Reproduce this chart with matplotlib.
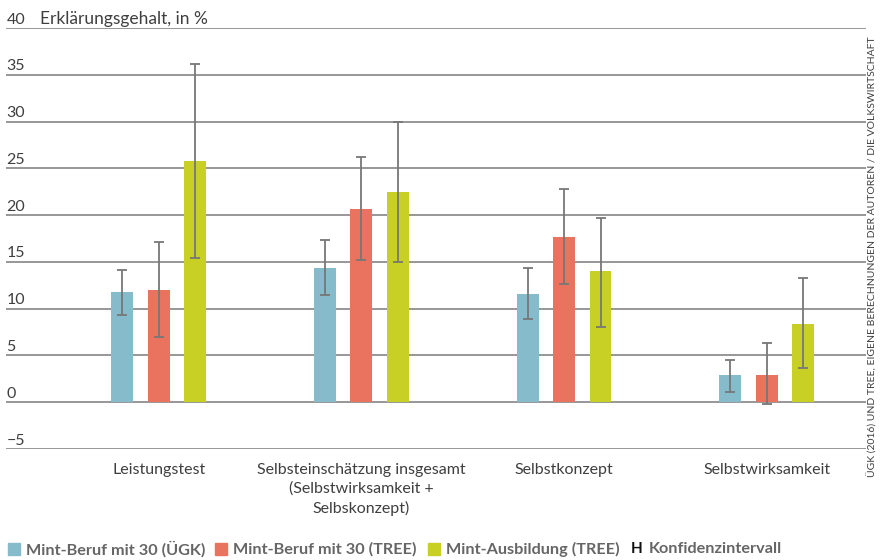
import matplotlib
matplotlib.use("Agg")
import matplotlib.pyplot as plt
import numpy as np
from matplotlib.patches import Rectangle

categories = ["Leistungstest",
              "Selbsteinschätzung insgesamt\n(Selbstwirksamkeit +\nSelbskonzept)",
              "Selbstkonzept",
              "Selbstwirksamkeit"]
series_names = ["Mint-Beruf mit 30 (ÜGK)", "Mint-Beruf mit 30 (TREE)", "Mint-Ausbildung (TREE)"]
values_uegk = [11.8, 14.4, 11.6, 2.9]
values_tree_beruf = [12.0, 20.7, 17.7, 2.9]
values_tree_ausb = [25.8, 22.5, 14.0, 8.4]
ci_low_uegk = [9.3, 11.5, 8.9, 1.1]
ci_high_uegk = [14.1, 17.3, 14.3, 4.5]
ci_low_tree_beruf = [7.0, 15.2, 12.6, -0.2]
ci_high_tree_beruf = [17.1, 26.2, 22.8, 6.3]
ci_low_tree_ausb = [15.4, 15.0, 8.0, 3.7]
ci_high_tree_ausb = [36.2, 29.9, 19.7, 13.3]
yticks = [-5, 0, 5, 10, 15, 20, 25, 30, 35, 40]

colors = ["#85BBCB", "#E9735F", "#C8CF25"]
text_col = "#3f3f3f"
grid_col = "#8f8f8f"
font = "Lato"

fig = plt.figure(figsize=(8.84, 5.6), dpi=100)
ax = fig.add_axes([6/884, 1-449/560, 860/884, (449-28)/560])

x = np.arange(len(categories))
offsets = [-0.18, 0, 0.18]
width = 0.108
vals = [values_uegk, values_tree_beruf, values_tree_ausb]
lows = [ci_low_uegk, ci_low_tree_beruf, ci_low_tree_ausb]
highs = [ci_high_uegk, ci_high_tree_beruf, ci_high_tree_ausb]

for yv in yticks:
    ax.axhline(yv, color=grid_col, lw=1.3, zorder=1)

for v, lo, hi, off, c in zip(vals, lows, highs, offsets, colors):
    v = np.array(v); lo = np.array(lo); hi = np.array(hi)
    ax.bar(x + off, v, width=width, color=c, zorder=2)
    ax.errorbar(x + off, v, yerr=[v - lo, hi - v], fmt="none",
                ecolor="#777777", elinewidth=1.3, capsize=3.5, capthick=1.3, zorder=3)

ax.set_xlim(-0.754, 3.49)
ax.set_ylim(-5, 40)
ax.axis("off")

for yv in yticks:
    lab = str(yv).replace("-", "−") if yv < 0 else str(yv)
    ax.text(-0.754 + 0.002, yv + 0.15, lab, ha="left", va="bottom",
            fontsize=11.5, color=text_col, family=font)
ax.text(-0.754 + 0.167, 40 + 0.15, "Erklärungsgehalt, in %", ha="left", va="bottom",
        fontsize=12.5, color=text_col, family=font)

for xi, cat in zip(x, categories):
    ax.text(xi, -6.5, cat, ha="center", va="top", fontsize=11.5, color=text_col,
            family=font, linespacing=1.4)

# source text
fig.text(872/884, 1-257/560, "ÜGK (2016) UND TREE, EIGENE BERECHNUNGEN DER AUTOREN / DIE VOLKSWIRTSCHAFT",
         rotation=90, ha="center", va="center", fontsize=7.5, color=text_col, family=font)

# legend
ly = 1 - 549/560
entries = [(8, colors[0], series_names[0]), (215, colors[1], series_names[1]), (428, colors[2], series_names[2])]
for px, c, name in entries:
    fig.patches.append(Rectangle((px/884, ly - 6/560), 12/884, 12/560, transform=fig.transFigure,
                                 color=c, figure=fig))
    fig.text((px + 18)/884, ly, name, ha="left", va="center", fontsize=11.7,
             fontweight="bold", color="#666666", family=font)
fig.text(631/884, ly, "H", ha="left", va="center", fontsize=11, fontweight="bold",
         color="#111111", family=font)
fig.text(649/884, ly, "Konfidenzintervall", ha="left", va="center", fontsize=11.7,
         fontweight="bold", color="#666666", family=font)

fig.savefig("out.png", dpi=100)
